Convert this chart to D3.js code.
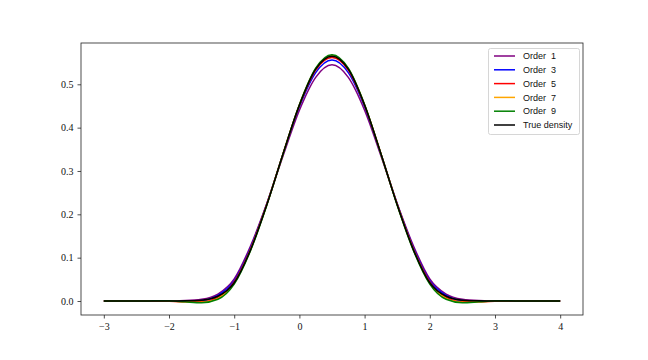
<!DOCTYPE html>
<html>
<head>
<meta charset="utf-8">
<script src="https://cdn.jsdelivr.net/npm/d3@7"></script>
<style>
  body { margin: 0; background: #fff; }
  .tick text { font-family: "Liberation Serif", "DejaVu Serif", serif; font-size: 10px; fill: #111; }
  .legend text { font-family: "Liberation Sans", "DejaVu Sans", sans-serif; font-size: 9px; fill: #111; }
</style>
</head>
<body>
<div id="chart"></div>
<script>
// x sample points (step 0.25 from -3 to 4)
const xs = d3.range(29).map(i => -3 + i * 0.25)

// density values, one per x sample
const order1 = [0, 0, 0, 0, 0.0003, 0.001, 0.004, 0.016, 0.051, 0.127, 0.225, 0.335, 0.440, 0.516, 0.545,
  0.516, 0.440, 0.335, 0.225, 0.127, 0.051, 0.016, 0.004, 0.001, 0.0003, 0, 0, 0, 0]
const order3 = [0, 0, 0, 0, -0.0005, -0.001, 0.001, 0.013, 0.047, 0.123, 0.224, 0.339, 0.448, 0.527, 0.556,
  0.527, 0.448, 0.339, 0.224, 0.123, 0.047, 0.013, 0.001, -0.001, -0.0005, 0, 0, 0, 0]
const order5 = [0, 0, 0, 0.0002, -0.0005, -0.002, -0.002, 0.008, 0.044, 0.120, 0.223, 0.340, 0.451, 0.533, 0.562,
  0.533, 0.451, 0.340, 0.223, 0.120, 0.044, 0.008, -0.002, -0.002, -0.0005, 0.0002, 0, 0, 0]
const order7 = [0, 0, 0, 0.0003, 0, -0.002, -0.003, 0.006, 0.041, 0.118, 0.222, 0.340, 0.453, 0.536, 0.566,
  0.536, 0.453, 0.340, 0.222, 0.118, 0.041, 0.006, -0.003, -0.002, 0, 0.0003, 0, 0, 0]
const order9 = [0, 0, 0, 0.0003, 0.0005, -0.002, -0.004, 0.004, 0.039, 0.116, 0.221, 0.340, 0.453, 0.537, 0.568,
  0.537, 0.453, 0.340, 0.221, 0.116, 0.039, 0.004, -0.004, -0.002, 0.0005, 0.0003, 0, 0, 0]
const trueDensity = [0, 0, 0, 0, 0, 0.0004, 0.002, 0.011, 0.042, 0.118, 0.222, 0.340, 0.452, 0.535, 0.565,
  0.535, 0.452, 0.340, 0.222, 0.118, 0.042, 0.011, 0.002, 0.0004, 0, 0, 0, 0, 0]

const seriesNames = ["Order  1", "Order  3", "Order  5", "Order  7", "Order  9", "True density"]
const seriesValues = [order1, order3, order5, order7, order9, trueDensity]
const colors = ["purple", "blue", "red", "orange", "green", "black"]

const xTicks = [-3, -2, -1, 0, 1, 2, 3, 4]
const yTicks = [0, 0.1, 0.2, 0.3, 0.4, 0.5]

let width = 648, height = 360
let m = { left: 81, right: 583, top: 43, bottom: 315 }

let x = d3.scaleLinear().domain([-3.35, 4.35]).range([m.left, m.right])
let y = d3.scaleLinear().domain([-0.0323, 0.5953]).range([m.bottom, m.top])

let svg = d3.select("#chart").append("svg")
  .attr("width", width)
  .attr("height", height)

let fmt = d => d3.format("d")(d).replace("-", "\u2212")

svg.append("g")
  .attr("transform", `translate(0,${m.bottom})`)
  .call(d3.axisBottom(x).tickValues(xTicks).tickFormat(fmt).tickSize(3.5).tickPadding(4))
  .call(g => g.select(".domain").remove())

svg.append("g")
  .attr("transform", `translate(${m.left},0)`)
  .call(d3.axisLeft(y).tickValues(yTicks).tickFormat(d3.format(".1f")).tickSize(3.5).tickPadding(4))
  .call(g => g.select(".domain").remove())

svg.selectAll(".tick line").attr("stroke", "#222").attr("stroke-width", 0.8)

let line = d3.line()
  .x((d, i) => x(xs[i]))
  .y(d => y(d))
  .curve(d3.curveMonotoneX)

svg.append("g").selectAll("path")
  .data(seriesValues)
  .enter().append("path")
  .attr("d", line)
  .attr("fill", "none")
  .attr("stroke", (d, i) => colors[i])
  .attr("stroke-width", 1.5)

// frame
svg.append("rect")
  .attr("x", m.left).attr("y", m.top)
  .attr("width", m.right - m.left).attr("height", m.bottom - m.top)
  .attr("fill", "none").attr("stroke", "#222").attr("stroke-width", 0.8)

// legend
let legend = svg.append("g").attr("class", "legend")
legend.append("rect")
  .attr("x", 488.5).attr("y", 48.5).attr("width", 91).attr("height", 86)
  .attr("rx", 2).attr("fill", "#fff").attr("fill-opacity", 0.8)
  .attr("stroke", "#ccc").attr("stroke-width", 0.8)

let items = legend.selectAll(".item")
  .data(seriesNames)
  .enter().append("g")
  .attr("transform", (d, i) => `translate(0,${56 + i * 13.8})`)

items.append("line")
  .attr("x1", 494).attr("x2", 515)
  .attr("stroke", (d, i) => colors[i]).attr("stroke-width", 1.5)

items.append("text")
  .attr("x", 523).attr("y", 3.2)
  .attr("xml:space", "preserve")
  .text(d => d)
</script>
</body>
</html>
